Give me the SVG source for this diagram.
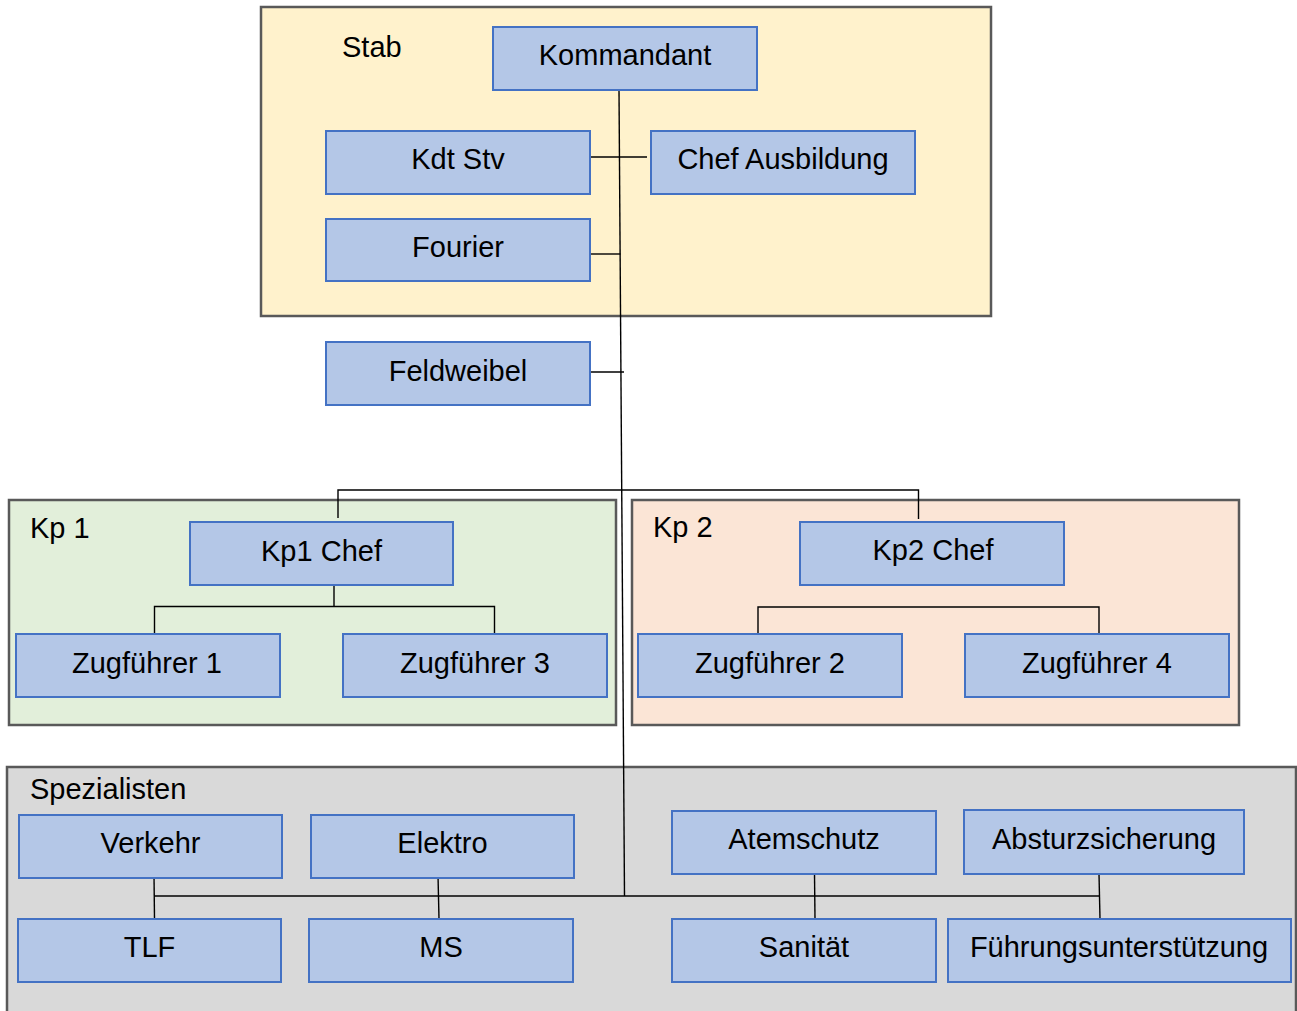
<svg xmlns="http://www.w3.org/2000/svg" width="1297" height="1011" viewBox="0 0 1297 1011">
<style>
.cont{stroke:#595959;stroke-width:2.5}
.box{fill:#b4c7e7;stroke:#4472c4;stroke-width:2}
text{font-family:"Liberation Sans",Arial,sans-serif;font-size:29px;fill:#000}
.c{text-anchor:middle}
.conn{stroke:#000;stroke-width:1.4;fill:none}
</style>
<rect width="1297" height="1011" fill="#fff"/>
<g id="stab-group">
<rect class="cont" x="261" y="7" width="730" height="309" fill="#fff2cc"/>
<text x="342" y="57">Stab</text>
</g>
<g id="kp1-group">
<rect class="cont" x="9" y="500" width="607" height="225" fill="#e2efda"/>
<text x="30" y="538">Kp 1</text>
</g>
<g id="kp2-group">
<rect class="cont" x="632" y="500" width="607" height="225" fill="#fbe5d6"/>
<text x="653" y="537">Kp 2</text>
</g>
<g id="spez-group">
<rect class="cont" x="7" y="767" width="1289" height="260" fill="#d9d9d9"/>
<text x="30" y="799">Spezialisten</text>
</g>
<g id="connectors">
<line class="conn" x1="619" y1="90" x2="624.5" y2="896"/>
<line class="conn" x1="590" y1="157" x2="647" y2="157"/>
<line class="conn" x1="590" y1="254" x2="620.5" y2="254"/>
<line class="conn" x1="590" y1="372" x2="624" y2="372"/>
<polyline class="conn" points="338,518 338,490 918.5,490 918.5,519"/>
<line class="conn" x1="334" y1="585" x2="334" y2="606.5"/>
<polyline class="conn" points="154.5,634 154.5,606.5 494.5,606.5 494.5,634"/>
<polyline class="conn" points="758,634 758,607 1099,607 1099,634"/>
<line class="conn" x1="154" y1="896" x2="1099" y2="896"/>
<line class="conn" x1="154" y1="875" x2="154.5" y2="919"/>
<line class="conn" x1="438" y1="875" x2="439" y2="919"/>
<line class="conn" x1="814.5" y1="874" x2="815" y2="919"/>
<line class="conn" x1="1099" y1="874" x2="1100" y2="919"/>
</g>
<g id="kommandant"><rect class="box" x="493" y="27" width="264" height="63"/><text class="c" x="625" y="65">Kommandant</text></g>
<g id="kdt-stv"><rect class="box" x="326" y="131" width="264" height="63"/><text class="c" x="458" y="169">Kdt Stv</text></g>
<g id="chef-ausbildung"><rect class="box" x="651" y="131" width="264" height="63"/><text class="c" x="783" y="169">Chef Ausbildung</text></g>
<g id="fourier"><rect class="box" x="326" y="219" width="264" height="62"/><text class="c" x="458" y="257">Fourier</text></g>
<g id="feldweibel"><rect class="box" x="326" y="342" width="264" height="63"/><text class="c" x="458" y="381">Feldweibel</text></g>
<g id="kp1-chef"><rect class="box" x="190" y="522" width="263" height="63"/><text class="c" x="321.5" y="561">Kp1 Chef</text></g>
<g id="zugfuehrer1"><rect class="box" x="16" y="634" width="264" height="63"/><text class="c" x="147" y="673">Zugführer 1</text></g>
<g id="zugfuehrer3"><rect class="box" x="343" y="634" width="264" height="63"/><text class="c" x="475" y="673">Zugführer 3</text></g>
<g id="kp2-chef"><rect class="box" x="800" y="522" width="264" height="63"/><text class="c" x="933" y="560">Kp2 Chef</text></g>
<g id="zugfuehrer2"><rect class="box" x="638" y="634" width="264" height="63"/><text class="c" x="770" y="673">Zugführer 2</text></g>
<g id="zugfuehrer4"><rect class="box" x="965" y="634" width="264" height="63"/><text class="c" x="1097" y="673">Zugführer 4</text></g>
<g id="verkehr"><rect class="box" x="19" y="815" width="263" height="63"/><text class="c" x="150.5" y="853">Verkehr</text></g>
<g id="elektro"><rect class="box" x="311" y="815" width="263" height="63"/><text class="c" x="442.5" y="853">Elektro</text></g>
<g id="tlf"><rect class="box" x="18" y="919" width="263" height="63"/><text class="c" x="149.5" y="957">TLF</text></g>
<g id="ms"><rect class="box" x="309" y="919" width="264" height="63"/><text class="c" x="441" y="957">MS</text></g>
<g id="atemschutz"><rect class="box" x="672" y="811" width="264" height="63"/><text class="c" x="804" y="849">Atemschutz</text></g>
<g id="absturzsicherung"><rect class="box" x="964" y="810" width="280" height="64"/><text class="c" x="1104" y="849">Absturzsicherung</text></g>
<g id="sanitaet"><rect class="box" x="672" y="919" width="264" height="63"/><text class="c" x="804" y="957">Sanität</text></g>
<g id="fuehrungsunterstuetzung"><rect class="box" x="948" y="919" width="343" height="63"/><text class="c" x="1119" y="957">Führungsunterstützung</text></g>
</svg>
